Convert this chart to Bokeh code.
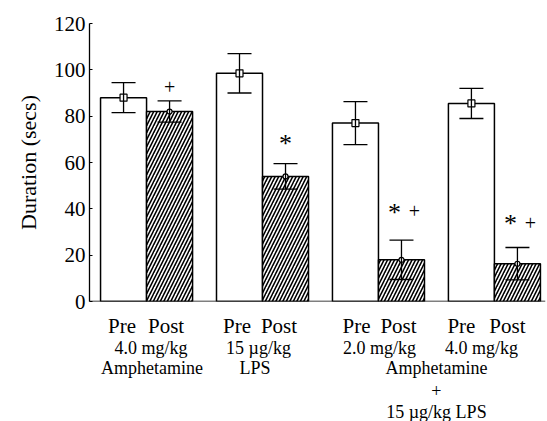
from bokeh.plotting import figure
from bokeh.layouts import column
from bokeh.models import Range1d, FixedTicker, Whisker, ColumnDataSource, TeeHead, Span
from bokeh.core.properties import value
from bokeh.embed import file_html
from bokeh.resources import INLINE

# ---- data ----
groups = ["4.0 mg/kg Amphetamine", "15 µg/kg LPS", "2.0 mg/kg Amph + LPS", "4.0 mg/kg Amph + LPS"]
pre_mean = [88.0, 98.5, 77.0, 85.5]
pre_err = [6.5, 8.5, 9.3, 6.5]
post_mean = [82.0, 54.0, 18.0, 16.3]
post_err = [4.6, 5.5, 8.5, 7.0]
sig_star = [False, True, True, True]
sig_plus = [True, False, True, True]
sig_y = [92.5, 68.0, 38.5, 33.5]
y_ticks = [0, 20, 40, 60, 80, 100, 120]
phase_labels = ["Pre", "Post"]
dose_labels = ["4.0 mg/kg", "15 µg/kg", "2.0 mg/kg", "4.0 mg/kg"]
drug_labels = ["Amphetamine", "LPS"]
combo_labels = ["Amphetamine", "+", "15 µg/kg LPS"]

FONT = "Liberation Serif"
PX = 46.0  # pixels per x unit (bar width)

# layout (in bar-width units)
step = 2.52
first = 0.74
pre_x = [first + step * i for i in range(len(groups))]
post_x = [x + 1.0 for x in pre_x]
xr = Range1d(0, 9.91)

W = 547
TOP_H = 313
p = figure(width=W, height=TOP_H, output_backend="svg", toolbar_location=None,
           x_range=xr, y_range=Range1d(0, 120),
           min_border_left=89, min_border_right=2, min_border_top=23, min_border_bottom=12)
p.outline_line_color = None
p.grid.visible = False
p.xaxis.visible = False

# bars
p.vbar(x=pre_x, top=pre_mean, width=1.0, bottom=0, fill_color="white",
       line_color="black", line_width=1.5)
p.vbar(x=post_x, top=post_mean, width=1.0, bottom=0, fill_color="white",
       line_color="black", line_width=1.5, hatch_pattern="/", hatch_color="black",
       hatch_scale=7, hatch_weight=1.6)

# error bars
for xs, m, e in [(pre_x, pre_mean, pre_err), (post_x, post_mean, post_err)]:
    src = ColumnDataSource(dict(x=xs, lo=[a - b for a, b in zip(m, e)], hi=[a + b for a, b in zip(m, e)]))
    w = Whisker(base="x", lower="lo", upper="hi", source=src, line_color="black", line_width=1.3,
                level="overlay",
                upper_head=TeeHead(size=24, line_color="black", line_width=1.3),
                lower_head=TeeHead(size=24, line_color="black", line_width=1.3))
    p.add_layout(w)

# markers
p.scatter(x=pre_x, y=pre_mean, marker="square", size=7, fill_color="white", line_color="black",
          line_width=1.2, level="overlay")
p.scatter(x=post_x, y=post_mean, marker="circle", size=5, fill_color="white", line_color="black",
          line_width=1.2, level="overlay")

# significance marks
for x, y, st, pl in zip(post_x, sig_y, sig_star, sig_plus):
    both = st and pl
    if st:
        p.text(x=[x - (7 / PX if both else 0)], y=[y], text=["*"], text_font=value(FONT),
               text_font_size="26px", text_align="center", text_baseline="middle", text_color="black")
    if pl:
        p.text(x=[x + (13 / PX if both else 0)], y=[y + (0.5 if both else 0)], text=["+"],
               text_font=value(FONT), text_font_size="20px", text_align="center",
               text_baseline="middle", text_color="black")

# x axis line
p.add_layout(Span(location=0, dimension="width", line_color="black", line_width=1.5))

# y axis
p.yaxis.ticker = FixedTicker(ticks=y_ticks)
p.yaxis.major_tick_in = 3
p.yaxis.major_tick_out = 0
p.yaxis.minor_tick_line_color = None
p.yaxis.axis_line_width = 1.3
p.yaxis.axis_line_color = "black"
p.yaxis.major_tick_line_color = "black"
p.yaxis.major_label_text_font = FONT
p.yaxis.major_label_text_font_size = "21px"
p.yaxis.major_label_text_color = "black"
p.yaxis.major_label_standoff = 4
p.yaxis.axis_label = "Duration (secs)"
p.yaxis.axis_label_text_font = FONT
p.yaxis.axis_label_text_font_size = "22px"
p.yaxis.axis_label_text_font_style = "normal"
p.yaxis.axis_label_text_color = "black"
p.yaxis.axis_label_standoff = 10

# ---- category labels below the axis ----
q = figure(width=W, height=421 - TOP_H, output_backend="svg", toolbar_location=None,
           x_range=xr, y_range=Range1d(421, TOP_H),
           min_border_left=89, min_border_right=2, min_border_top=0, min_border_bottom=0)
q.outline_line_color = None
q.grid.visible = False
q.axis.visible = False

pair_shift = [[-1.5, -3.5], [-2.5, -6.5], [1, -3], [-10, -10]]
dose_shift = [4.5, -4, 1, -13]
drug_shift = [5.5, -7.5]

def lab(x, y, t, size):
    q.text(x=[x], y=[y], text=[t], text_font=value(FONT), text_font_size=size,
           text_align="center", text_baseline="middle", text_color="black")

for i in range(len(groups)):
    lab(pre_x[i] + pair_shift[i][0] / PX, 325, phase_labels[0], "21px")
    lab(post_x[i] + pair_shift[i][1] / PX, 325, phase_labels[1], "21px")
    lab((pre_x[i] + post_x[i]) / 2 + dose_shift[i] / PX, 347, dose_labels[i], "18px")
for i, t in enumerate(drug_labels):
    lab((pre_x[i] + post_x[i]) / 2 + drug_shift[i] / PX, 367, t, "18px")
cx = (pre_x[2] + post_x[3]) / 2
for t, y in zip(combo_labels, [367, 390, 411]):
    lab(cx, y, t, "18px")

layout = column(p, q, spacing=0)
open("out.html", "w").write(file_html(layout, INLINE))
